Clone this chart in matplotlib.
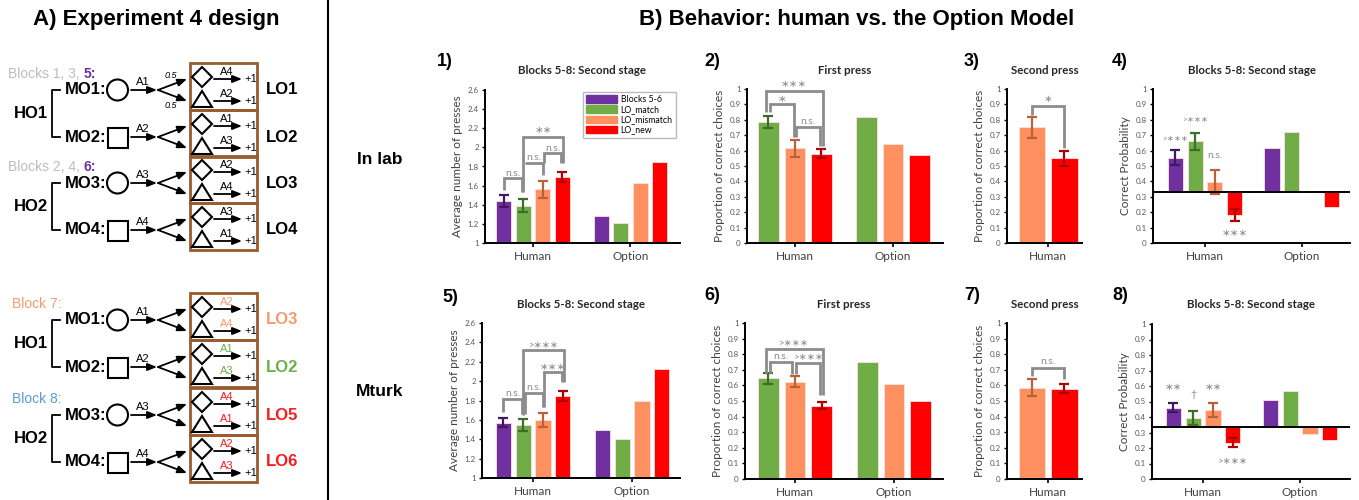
import numpy as np
import matplotlib
matplotlib.use('Agg')
import matplotlib.pyplot as plt
import matplotlib.patches as mpatches
from matplotlib.ticker import FuncFormatter

plt.rcParams['font.family'] = ['Lato', 'DejaVu Sans']
HEAD = ['Liberation Sans', 'DejaVu Sans']

# ---------------------------------------------------------------- data
groups = ['Human', 'Option']
conditions = ['Blocks 5-6', 'LO_match', 'LO_mismatch', 'LO_new']
chance = 1 / 3

# in lab
lab_presses_human = [1.44, 1.39, 1.56, 1.69]
lab_presses_err = [0.06, 0.07, 0.09, 0.05]
lab_presses_option = [1.28, 1.21, 1.63, 1.85]
lab_first_human = [0.785, 0.615, 0.58]
lab_first_err = [0.04, 0.055, 0.03]
lab_first_option = [0.82, 0.64, 0.57]
lab_second_human = [0.75, 0.55]
lab_second_err = [0.07, 0.05]
lab_prob_human = [0.555, 0.66, 0.395, 0.18]
lab_prob_err = [0.05, 0.055, 0.08, 0.04]
lab_prob_option = [0.62, 0.72, 0.333, 0.235]

# mturk
mt_presses_human = [1.57, 1.55, 1.60, 1.85]
mt_presses_err = [0.045, 0.06, 0.07, 0.05]
mt_presses_option = [1.50, 1.40, 1.80, 2.13]
mt_first_human = [0.645, 0.625, 0.47]
mt_first_err = [0.035, 0.035, 0.022]
mt_first_option = [0.75, 0.61, 0.50]
mt_second_human = [0.585, 0.58]
mt_second_err = [0.055, 0.03]
mt_prob_human = [0.46, 0.395, 0.445, 0.235]
mt_prob_err = [0.03, 0.045, 0.045, 0.03]
mt_prob_option = [0.51, 0.57, 0.29, 0.25]

# design diagram
mo_labels = ['MO1', 'MO2', 'MO3', 'MO4']
mo_actions = ['A1', 'A2', 'A3', 'A4']
mo_shapes = ['circle', 'square', 'circle', 'square']
top_lo = ['LO1', 'LO2', 'LO3', 'LO4']
top_lo_actions = [('A4', 'A2'), ('A1', 'A3'), ('A2', 'A4'), ('A3', 'A1')]
bot_lo = ['LO3', 'LO2', 'LO5', 'LO6']
bot_lo_actions = [('A2', 'A4'), ('A1', 'A3'), ('A4', 'A1'), ('A2', 'A3')]

# ---------------------------------------------------------------- colours
cond_colors = {'Blocks 5-6': '#7030A0', 'LO_match': '#70AD47',
               'LO_mismatch': '#FF9060', 'LO_new': '#FF0000'}
cond_dark = {'Blocks 5-6': '#3F1860', 'LO_match': '#3C6E27',
             'LO_mismatch': '#B8623A', 'LO_new': '#B00000'}
sig_gray = '#8C8C8C'
brown = '#9A5B2E'
salmon = '#F79A72'
green = '#6CB04A'
red = '#FF1A1A'
blue = '#5B9BD5'
light_gray = '#BDBDBD'
purple = '#7030A0'

W, H = 1359, 500
fig = plt.figure(figsize=(W / 100, H / 100), dpi=100)

# full-figure axes in pixel units for diagram and headings
dax = fig.add_axes([0, 0, 1, 1])
dax.set_xlim(0, W)
dax.set_ylim(H, 0)
dax.axis('off')


def px_axes(x0, y0, x1, y1):
    return fig.add_axes([x0 / W, 1 - y1 / H, (x1 - x0) / W, (y1 - y0) / H])


def arrow(x0, y0, x1, y1, lw=1.3):
    dax.annotate('', xy=(x1, y1), xytext=(x0, y0),
                 arrowprops=dict(arrowstyle='-|>,head_length=0.55,head_width=0.22',
                                 color='k', lw=lw, shrinkA=0, shrinkB=0,
                                 mutation_scale=10))


def mixed_text(x, y, parts, fs):
    r = fig.canvas.get_renderer()
    for s, c, w in parts:
        t = dax.text(x, y, s, color=c, fontweight=w, fontsize=fs, family=HEAD,
                     ha='left', va='center')
        bb = t.get_window_extent(r)
        x = bb.x1


def draw_design(mo_y, lo_names, lo_acts, lo_colors, act_colors, blocks, probs):
    for i, y in enumerate(mo_y):
        dax.text(106, y, mo_labels[i] + ':', ha='right', va='center', fontsize=12,
                 fontweight='bold', family=HEAD)
        if mo_shapes[i] == 'circle':
            dax.add_patch(mpatches.Circle((117.5, y), 10.5, fill=False, lw=1.5))
        else:
            dax.add_patch(mpatches.Rectangle((108, y - 9), 20, 20, fill=False, lw=1.5))
        arrow(131, y, 157, y)
        dax.text(143, y - 8, mo_actions[i], ha='center', va='center', fontsize=8, family=HEAD)
        arrow(158, y, 187, y - 11)
        arrow(158, y, 187, y + 11)
        if probs and i == 0:
            dax.text(171, y - 14, '0.5', ha='center', va='center', fontsize=6.5,
                     style='italic', family=HEAD)
            dax.text(171, y + 15, '0.5', ha='center', va='center', fontsize=6.5,
                     style='italic', family=HEAD)
        dax.add_patch(mpatches.Rectangle((190, y - 27), 67, 47, fill=False,
                                         ec=brown, lw=2))
        yd, yt = y - 13, y + 10
        dax.add_patch(mpatches.Polygon([(202, yd - 10), (212, yd), (202, yd + 10), (192, yd)],
                                       closed=True, fill=False, lw=1.5))
        dax.add_patch(mpatches.Polygon([(202, y + 1), (212, y + 17), (192, y + 17)],
                                       closed=True, fill=False, lw=1.5))
        for ya, act in zip((yd + 2, yt + 1), lo_acts[i]):
            arrow(214, ya, 242, ya)
            dax.text(227, ya - 7, act, ha='center', va='center', fontsize=8,
                     color=act_colors[i], family=HEAD)
            dax.text(244, ya, '+1', ha='left', va='center', fontsize=8, family=HEAD)
        dax.text(282, y, lo_names[i], ha='center', va='center', fontsize=12,
                 fontweight='bold', color=lo_colors[i], family=HEAD)
    for k in range(2):
        ya, yb = mo_y[2 * k], mo_y[2 * k + 1]
        dax.plot([60, 52, 52, 60], [ya, ya, yb, yb], color='k', lw=1.3)
        dax.text(31, (ya + yb) / 2, 'HO%d' % (k + 1), ha='center', va='center',
                 fontsize=12, fontweight='bold', family=HEAD)
        mixed_text(blocks[k][0], ya - 16, blocks[k][1], 10)


draw_design([90, 137, 183, 230], top_lo, top_lo_actions, ['k'] * 4, ['k'] * 4,
            [(8, [('Blocks 1, 3, ', light_gray, 'normal'), ('5:', purple, 'bold')]),
             (8, [('Blocks 2, 4, ', light_gray, 'normal'), ('6:', purple, 'bold')])],
            True)
draw_design([320, 367, 415, 462], bot_lo, bot_lo_actions,
            [salmon, green, red, red], [salmon, green, red, red],
            [(12, [('Block 7:', salmon, 'normal')]), (12, [('Block 8:', blue, 'normal')])],
            False)

dax.plot([328, 328], [0, H], color='k', lw=1.5)
dax.text(156, 20, 'A) Experiment 4 design', ha='center', va='center', fontsize=16,
         fontweight='bold', family=HEAD)
dax.text(857, 19, 'B) Behavior: human vs. the Option Model', ha='center', va='center',
         fontsize=16, fontweight='bold', family=HEAD)
dax.text(380, 160, 'In lab', ha='center', va='center', fontsize=12.5,
         fontweight='bold', family=HEAD)
dax.text(380, 392, 'Mturk', ha='center', va='center', fontsize=12.5,
         fontweight='bold', family=HEAD)


# ---------------------------------------------------------------- bar panels
def bar_panel(ax, conds, human, err, option, offsets, centers, width, base=0.0):
    cols = [cond_colors[c] for c in conds]
    for g, vals in enumerate([human, option]):
        if vals is None:
            continue
        xs = centers[g] + np.array(offsets)
        v = np.array(vals)
        ax.bar(xs, v - base, width, bottom=base, color=cols, edgecolor='#FFE0E0',
               lw=0.6, zorder=2)
        if g == 0:
            for x, val, e, c in zip(xs, v, err, conds):
                ax.errorbar(x, val, yerr=e, color=cond_dark[c], lw=1.6, capsize=3.8,
                            capthick=1.6, zorder=3)
    return centers[0] + np.array(offsets)


def style(ax, xlim, ylim, yticks, ylabel, centers, labels, title, title_y):
    ax.set_xlim(xlim)
    ax.set_ylim(ylim)
    for s in ['top', 'right']:
        ax.spines[s].set_visible(False)
    for s in ['left', 'bottom']:
        ax.spines[s].set_linewidth(1.4)
    ax.set_yticks(yticks)
    ax.yaxis.set_major_formatter(FuncFormatter(lambda v, p: '%g' % round(v, 2)))
    ax.tick_params(axis='y', labelsize=5.8, labelcolor='#595959', length=2.5,
                   width=1, pad=2)
    ax.set_xticks(centers)
    ax.set_xticklabels(labels)
    ax.tick_params(axis='x', labelsize=8.5, labelcolor='#404040', length=3,
                   width=1.2, pad=3)
    ax.set_ylabel(ylabel, fontsize=8.5, color='#404040', labelpad=3)
    bb = ax.get_position()
    dax.text((bb.x0 + bb.x1) / 2 * W, title_y, title, ha='center', va='center',
             fontsize=8.3, fontweight='bold', color='#262626')


def bracket(ax, x1, x2, y, y1, y2, label, ty, tx=None, fs=7.5):
    ax.plot([x1, x1, x2, x2], [y1, y, y, y2], color=sig_gray, lw=2,
            solid_joinstyle='miter', solid_capstyle='butt', zorder=4, clip_on=False)
    ax.text((x1 + x2) / 2 if tx is None else tx, ty, label, ha='center', va='center',
            fontsize=fs, color=sig_gray, clip_on=False)


def star(ax, x, y, label, fs=7.5):
    ax.text(x, y, label, ha='center', va='center', fontsize=fs, color=sig_gray)


off4 = [-1.5, -0.5, 0.5, 1.5]
off3 = [-1.0, 0.0, 1.0]
off2 = [-0.5, 0.5]
st3 = '\u2217\u2217\u2217'
st2 = '\u2217\u2217'
st1 = '\u2217'
sfs = 7.5

presses_ticks = np.arange(1, 2.61, 0.2)
prob_ticks = np.arange(0, 1.01, 0.1)
c3 = conditions[1:]
c2 = conditions[2:]

# 1) in lab presses
ax1 = px_axes(485, 90, 680, 243)
x = bar_panel(ax1, conditions, lab_presses_human, lab_presses_err, lab_presses_option,
              off4, [0, 5], 0.77)
style(ax1, (-2.46, 7.54), (1, 2.6), presses_ticks, 'Average number of presses',
      [0, 5], groups, 'Blocks 5-8: Second stage', 70)
bracket(ax1, x[0], x[1] - 0.08, 1.68, 1.55, 1.53, 'n.s.', 1.73)
bracket(ax1, x[1] + 0.08, x[2], 1.84, 1.84, 1.71, 'n.s.', 1.89)
bracket(ax1, x[2] + 0.05, x[3] - 0.05, 1.94, 1.84, 1.84, 'n.s.', 1.99)
bracket(ax1, x[1], x[3] + 0.05, 2.11, 1.53, 1.84, st2, 2.18, fs=sfs)
ax1.legend(handles=[mpatches.Patch(color=cond_colors[c]) for c in conditions],
           labels=conditions, loc='upper left', bbox_to_anchor=(0.5, 0.985),
           fontsize=6.3, handlelength=3.6, handleheight=1.0, labelspacing=0.12,
           borderpad=0.35, handletextpad=0.4, frameon=True, fancybox=False,
           edgecolor='#BBBBBB', framealpha=1, borderaxespad=0)

# 2) in lab first press
ax2 = px_axes(747, 89, 943, 243)
x = bar_panel(ax2, c3, lab_first_human, lab_first_err, lab_first_option,
              off3, [0, 3.7], 0.77)
style(ax2, (-1.81, 5.59), (0, 1), prob_ticks, 'Proportion of correct choices',
      [0, 3.7], groups, 'First press', 70)
bracket(ax2, x[0] - 0.1, x[2] + 0.05, 0.99, 0.85, 0.63, st3, 1.03, fs=sfs)
bracket(ax2, x[0] + 0.05, x[1] - 0.05, 0.90, 0.85, 0.69, st1, 0.935, fs=sfs)
bracket(ax2, x[1] + 0.05, x[2] - 0.05, 0.755, 0.69, 0.63, 'n.s.', 0.79)

# 3) in lab second press
ax3 = px_axes(1007, 89, 1082, 243)
x = bar_panel(ax3, c2, lab_second_human, lab_second_err, None, off2, [0], 0.84)
style(ax3, (-1.28, 1.06), (0, 1), prob_ticks, 'Proportion of correct choices',
      [0], groups[:1], 'Second press', 70)
bracket(ax3, x[0], x[1], 0.89, 0.83, 0.615, st1, 0.93, fs=sfs)

# 4) in lab correct probability
ax4 = px_axes(1153, 89, 1350, 243)
x = bar_panel(ax4, conditions, lab_prob_human, lab_prob_err, lab_prob_option,
              off4, [0, 4.9], 0.77, base=chance)
style(ax4, (-2.64, 7.36), (0, 1), prob_ticks, 'Correct Probability',
      [0, 4.9], groups, 'Blocks 5-8: Second stage', 70)
ax4.axhline(chance, color='k', lw=1.4, zorder=4)
star(ax4, x[0], 0.68, '>' + st3, fs=6)
star(ax4, x[1], 0.80, '>' + st3, fs=6)
star(ax4, x[2], 0.565, 'n.s.')
star(ax4, x[3], 0.06, st3, fs=sfs)

# 5) mturk presses
ax5 = px_axes(482, 323, 680, 478)
x = bar_panel(ax5, conditions, mt_presses_human, mt_presses_err, mt_presses_option,
              off4, [0, 5], 0.77)
style(ax5, (-2.58, 7.42), (1, 2.6), presses_ticks, 'Average number of presses',
      [0, 5], groups, 'Blocks 5-8: Second stage', 305)
bracket(ax5, x[0], x[1] - 0.08, 1.82, 1.68, 1.66, 'n.s.', 1.87)
bracket(ax5, x[1] + 0.08, x[2], 1.88, 1.66, 1.73, 'n.s.', 1.93)
bracket(ax5, x[2] + 0.05, x[3] - 0.05, 2.09, 1.73, 1.99, st3, 2.14, fs=sfs)
bracket(ax5, x[1], x[3] + 0.05, 2.32, 1.65, 1.99, '>' + st3, 2.37, fs=7)

# 6) mturk first press
ax6 = px_axes(745, 323, 943, 479)
x = bar_panel(ax6, c3, mt_first_human, mt_first_err, mt_first_option,
              off3, [0, 3.7], 0.77)
style(ax6, (-1.87, 5.53), (0, 1), prob_ticks, 'Proportion of correct choices',
      [0, 3.7], groups, 'First press', 305)
bracket(ax6, x[0] - 0.1, x[2] + 0.05, 0.835, 0.68, 0.54, '>' + st3, 0.87, fs=7)
bracket(ax6, x[0] + 0.05, x[1] - 0.1, 0.75, 0.68, 0.67, 'n.s.', 0.785)
bracket(ax6, x[1] + 0.05, x[2] - 0.05, 0.745, 0.67, 0.54, '>' + st3, 0.78, fs=7)

# 7) mturk second press
ax7 = px_axes(1007, 323, 1082, 479)
x = bar_panel(ax7, c2, mt_second_human, mt_second_err, None, off2, [0], 0.84)
style(ax7, (-1.28, 1.06), (0, 1), prob_ticks, 'Proportion of correct choices',
      [0], groups[:1], 'Second press', 305)
bracket(ax7, x[0], x[1], 0.71, 0.66, 0.64, 'n.s.', 0.75)

# 8) mturk correct probability
ax8 = px_axes(1152, 324, 1350, 479)
x = bar_panel(ax8, conditions, mt_prob_human, mt_prob_err, mt_prob_option,
              off4, [0, 4.9], 0.77, base=chance)
style(ax8, (-2.58, 7.42), (0, 1), prob_ticks, 'Correct Probability',
      [0, 4.9], groups, 'Blocks 5-8: Second stage', 305)
ax8.axhline(chance, color='k', lw=1.4, zorder=4)
star(ax8, x[0], 0.59, st2, fs=sfs)
star(ax8, x[1], 0.545, '\u2020')
star(ax8, x[2], 0.59, st2, fs=sfs)
star(ax8, x[3], 0.11, '>' + st3, fs=7)

# panel numbers
for num, (px, py) in enumerate([(445, 62), (712, 62), (972, 62), (1120, 62),
                                (450, 297), (712, 295), (972, 295), (1120, 296)]):
    dax.text(px, py, '%d)' % (num + 1), ha='center', va='center', fontsize=13,
             fontweight='bold', family=HEAD)

fig.savefig('out.png', dpi=100)
